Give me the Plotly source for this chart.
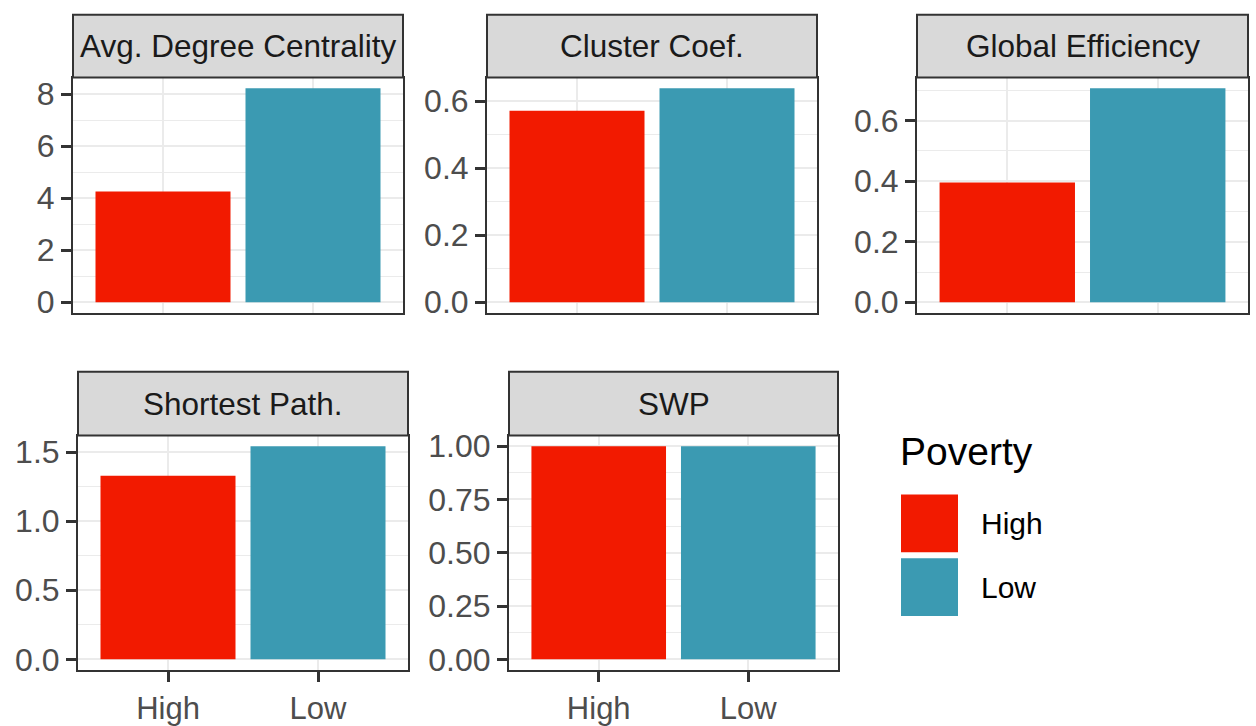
import plotly.graph_objects as go

# ---- data ----
metrics = ["Avg. Degree Centrality", "Cluster Coef.", "Global Efficiency", "Shortest Path.", "SWP"]
groups = ["High", "Low"]
high_vals = [4.26, 0.571, 0.396, 1.33, 1.00]
low_vals = [8.23, 0.638, 0.707, 1.543, 1.00]
y_dticks = [2, 0.2, 0.2, 0.5, 0.25]
y_formats = ["d", ".1f", ".1f", ".1f", ".2f"]
legend_title = "Poverty"

colors = {"High": "#F21A00", "Low": "#3B9AB2"}

W, H = 1256, 726
# panel pixel boxes (x0, x1, ytop_strip, ytop_plot, ybottom_plot)
boxes = [
    (73, 403, 8, 72, 312),
    (487, 817, 8, 72, 312),
    (917, 1248, 8, 72, 312),
    (78, 408, 372, 437, 676),
    (509, 838, 372, 437, 676),
]
bottom_row = [False, False, False, True, True]

FONT = "Liberation Sans, Arial, Helvetica, sans-serif"
GRID = "#EBEBEB"
DARK = "#333333"

fig = go.Figure()
shapes = []
annotations = []

for i, m in enumerate(metrics):
    n = i + 1
    xa = "x" if n == 1 else f"x{n}"
    ya = "y" if n == 1 else f"y{n}"
    x0, x1, ys, yt, yb = boxes[i]
    vals = [high_vals[i], low_vals[i]]
    fig.add_trace(go.Bar(
        x=groups, y=vals, width=0.9,
        marker=dict(color=[colors[g] for g in groups], line=dict(width=0)),
        xaxis=xa, yaxis=ya, showlegend=False,
        hovertemplate="%{x}: %{y}<extra>" + m + "</extra>",
    ))
    ymax = max(vals)
    pad = 0.05 * ymax
    xkey = "xaxis" if n == 1 else f"xaxis{n}"
    ykey = "yaxis" if n == 1 else f"yaxis{n}"
    fig.layout[xkey] = dict(
        domain=[x0 / W, x1 / W], anchor=ya, type="category",
        categoryorder="array", categoryarray=groups,
        range=[-0.6, 1.6],
        showgrid=True, gridcolor=GRID, gridwidth=2,
        showline=True, mirror=True, linecolor=DARK, linewidth=2,
        ticks="outside" if bottom_row[i] else "",
        ticklen=10, tickwidth=2.5, tickcolor=DARK,
        showticklabels=bottom_row[i],
        tickfont=dict(family=FONT, size=31, color="#4D4D4D"),
        zeroline=False, fixedrange=True,
    )
    fig.layout[ykey] = dict(
        domain=[1 - yb / H, 1 - yt / H], anchor=xa,
        range=[-pad, ymax + pad],
        tickmode="linear", tick0=0, dtick=y_dticks[i], tickformat=y_formats[i],
        showgrid=True, gridcolor=GRID, gridwidth=2,
        minor=dict(showgrid=True, gridcolor=GRID, gridwidth=1, dtick=y_dticks[i] / 2, tick0=0),
        showline=True, mirror=True, linecolor=DARK, linewidth=2,
        ticks="outside", ticklen=10, tickwidth=2.5, tickcolor=DARK,
        ticklabelstandoff=0,
        tickfont=dict(family=FONT, size=32, color="#4D4D4D"),
        zeroline=False, fixedrange=True,
    )
    # strip
    shapes.append(dict(type="rect", xref="paper", yref="paper",
                       x0=x0 / W, x1=x1 / W, y0=1 - yt / H, y1=1 - ys / H,
                       fillcolor="#D9D9D9", line=dict(color=DARK, width=2), layer="above"))
    annotations.append(dict(text=m, xref="paper", yref="paper",
                            x=(x0 + x1) / 2 / W, y=1 - (ys + yt) / 2 / H,
                            xanchor="center", yanchor="middle", showarrow=False,
                            font=dict(family=FONT, size=31.5, color="#1A1A1A")))

# legend (drawn manually, ggplot style)
annotations.append(dict(text=legend_title, xref="paper", yref="paper",
                        x=898 / W, y=1 - 453 / H, xanchor="left", yanchor="middle",
                        showarrow=False, font=dict(family=FONT, size=39, color="#000000")))
key_tops = [497, 562]
for g, kt in zip(groups, key_tops):
    shapes.append(dict(type="rect", xref="paper", yref="paper",
                       x0=901 / W, x1=958 / W, y0=1 - (kt + 59) / H, y1=1 - kt / H,
                       fillcolor=colors[g], line=dict(width=0)))
    annotations.append(dict(text=g, xref="paper", yref="paper",
                            x=979 / W, y=1 - (kt + 30) / H, xanchor="left", yanchor="middle",
                            showarrow=False, font=dict(family=FONT, size=30, color="#000000")))

fig.update_layout(
    width=W, height=H, margin=dict(l=0, r=0, t=0, b=0),
    paper_bgcolor="white", plot_bgcolor="white",
    shapes=shapes, annotations=annotations, showlegend=False,
    bargap=0.1,
)

fig.write_html("out.html", config={"displayModeBar": False})
